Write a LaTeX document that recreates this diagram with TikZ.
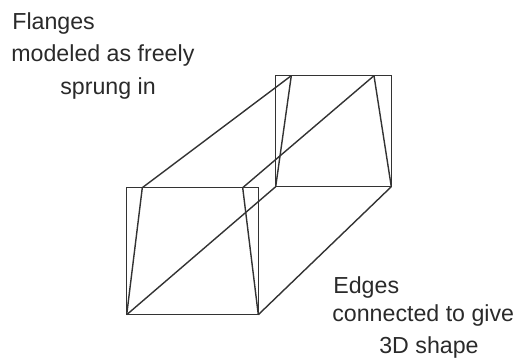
\documentclass[tikz,border=0pt]{standalone}
\usepackage{fontspec}
\setmainfont{Liberation Sans}
\usepackage{xcolor}
\usetikzlibrary{positioning}
\definecolor{inkline}{HTML}{333333}
\definecolor{inktext}{HTML}{2A2A2A}

\begin{document}
\begin{tikzpicture}[
  x=0.02cm, y=-0.02cm,
  edge/.style={draw=inkline, line width=0.8pt, line join=miter},
  caption/.style={anchor=base west, inner sep=0pt, text=inktext, font=\fontsize{13.2pt}{15pt}\selectfont}
]
\useasboundingbox (0,0) rectangle (515,358);
% front section
\coordinate (fbl) at (126.7,314.7);
\coordinate (fbr) at (258.3,314.7);
\coordinate (ftr) at (258.3,187.7);
\coordinate (ftl) at (126.7,187.7);
\coordinate (fil) at (142.3,187.7);
\coordinate (fir) at (242.7,187.7);
% back section
\coordinate (bbl) at (275.7,186.7);
\coordinate (bbr) at (391.3,186.7);
\coordinate (btr) at (391.3,75.7);
\coordinate (btl) at (275.7,75.7);
\coordinate (bil) at (291.3,75.7);
\coordinate (bir) at (374,75.7);

\draw[edge] (fbl) -- (fbr) -- (ftr) -- (ftl) -- cycle;
\draw[edge] (bbl) -- (bbr) -- (btr) -- (btl) -- cycle;
\draw[edge] (fbl) -- (fil);
\draw[edge] (fbr) -- (fir);
\draw[edge] (bbl) -- (bil);
\draw[edge] (bbr) -- (bir);
\draw[edge] (fil) -- (bil);
\draw[edge] (fir) -- (bir);
\draw[edge] (fbl) -- (bbl);
\draw[edge] (fbr) -- (bbr);

\node[caption] (flanges) at (12,30) {Flanges};
\node[caption] (modeled) at (11,62) {modeled as freely};
\node[caption] (sprung) at (60,95) {sprung in};
\node[caption] (edges) at (333,294) {Edges};
\node[caption] (connected) at (332,322) {connected to give};
\node[caption] (shape) at (379,354) {3D shape};
\end{tikzpicture}
\end{document}
